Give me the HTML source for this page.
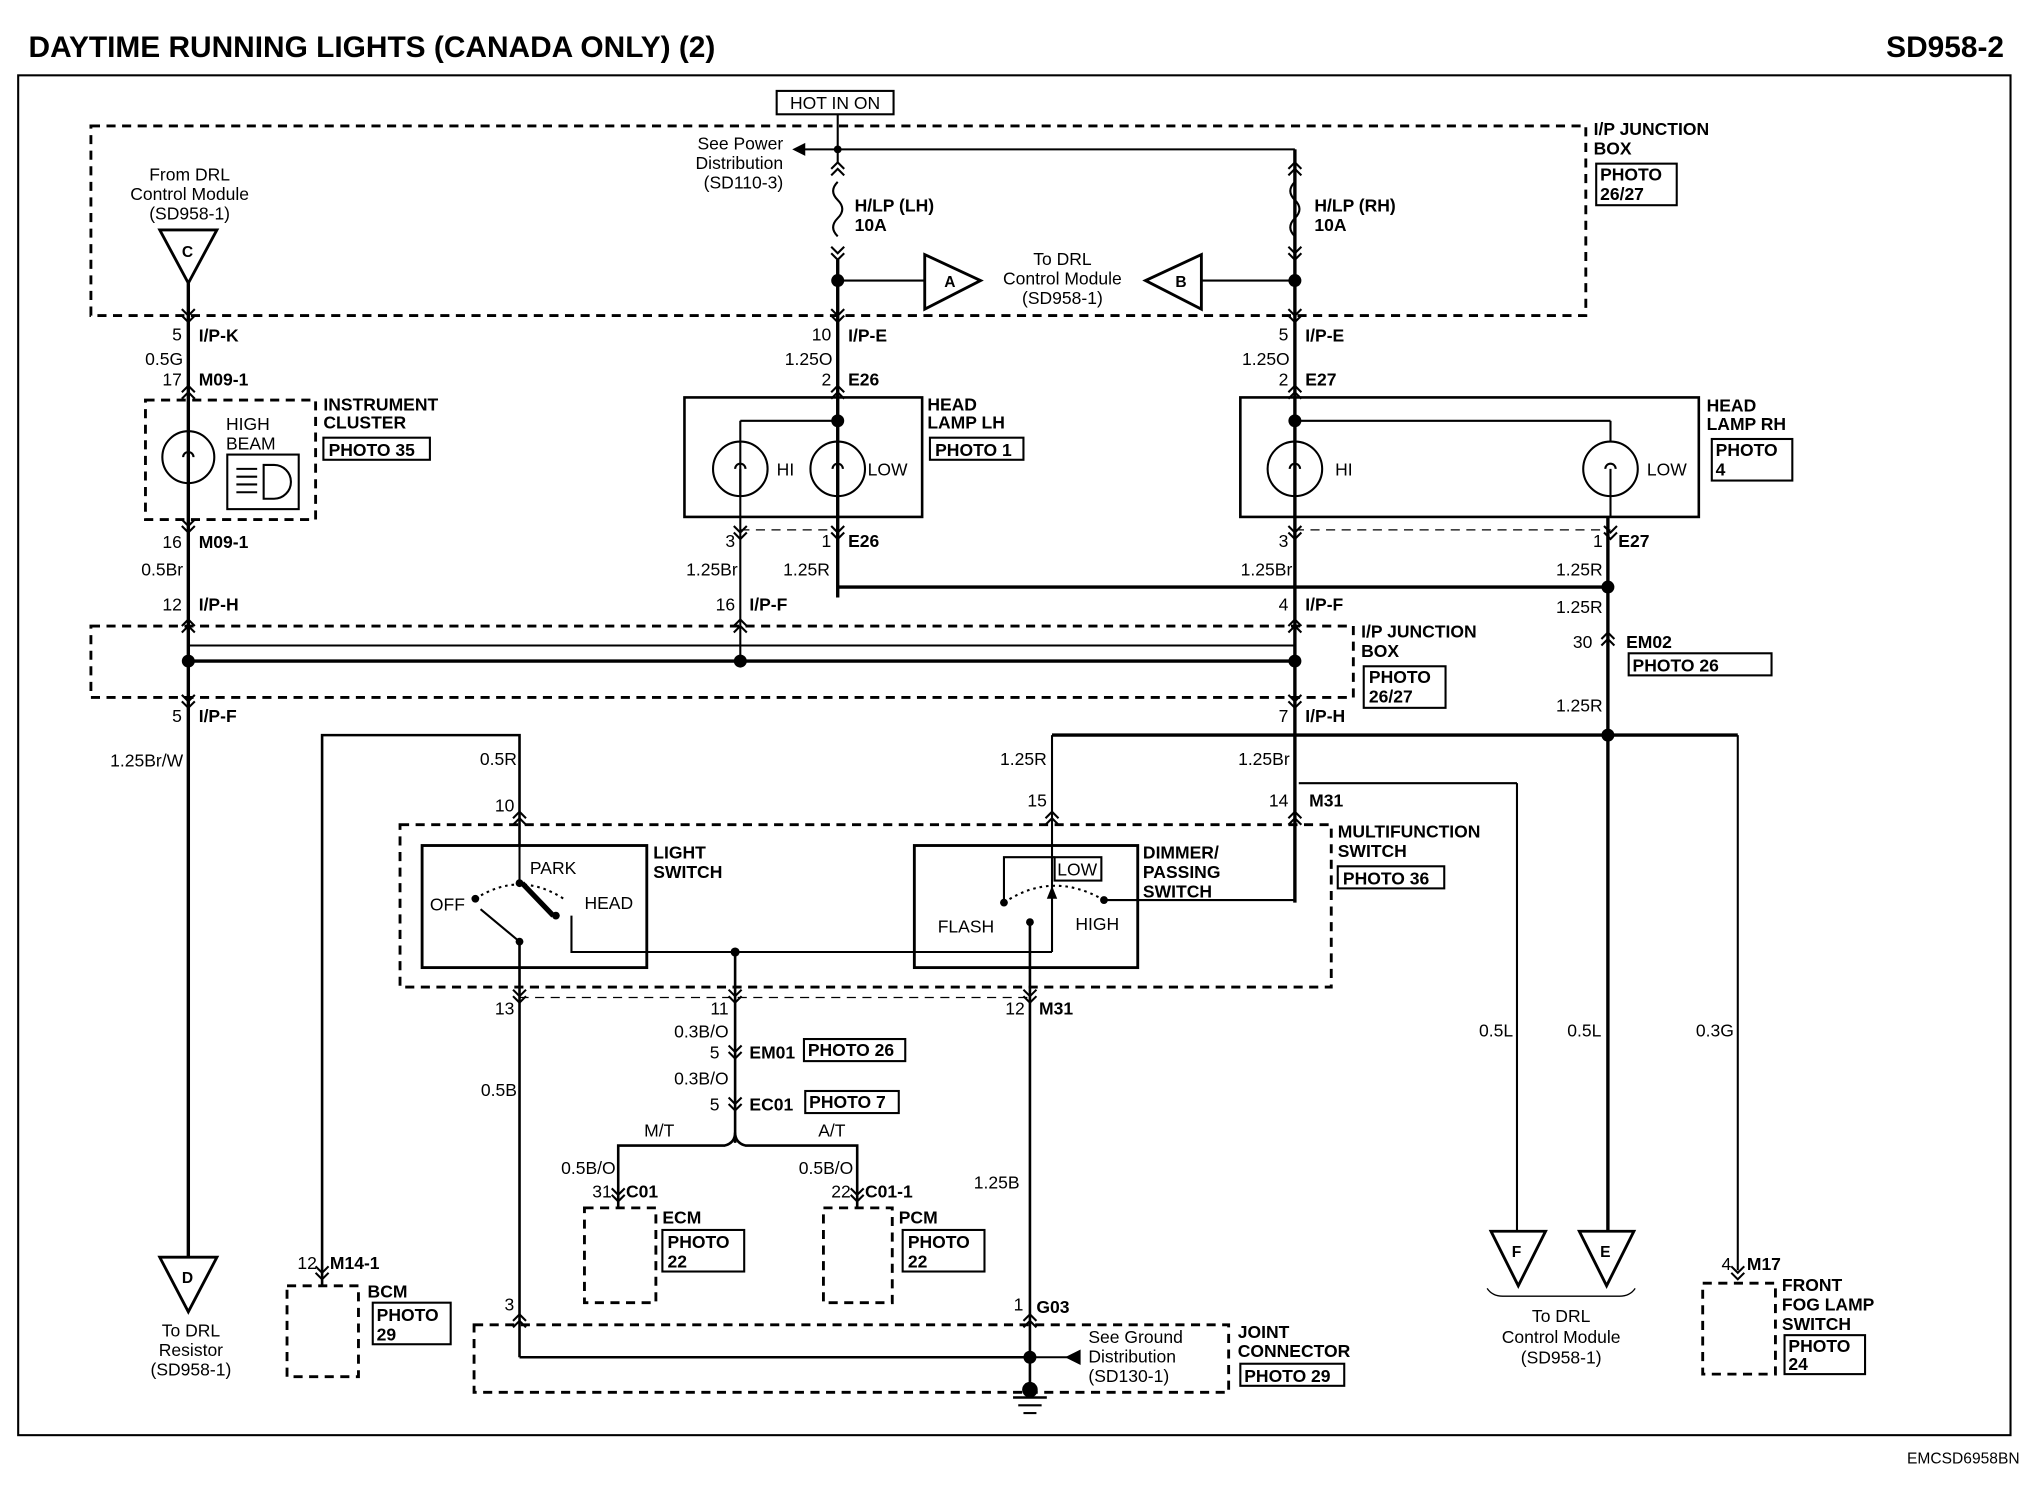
<!DOCTYPE html>
<html><head><meta charset="utf-8"><style>
html,body{margin:0;padding:0;background:#fff}
svg{display:block}
text{font-family:"Liberation Sans",Arial,sans-serif;font-size:13.5px;fill:#000}
.b{font-weight:bold}
.ln{stroke:#000;stroke-width:1.6;fill:none}
.tk{stroke:#000;stroke-width:2.6;fill:none}
.ds{stroke:#000;stroke-width:2.2;fill:none;stroke-dasharray:7,5}
.bx{stroke:#000;stroke-width:1.6;fill:none}
</style></head><body>
<svg width="2030" height="1504" viewBox="0 0 1563 1158" preserveAspectRatio="none">
<defs>
<g id="ch"><polyline class="ln" points="-5,5 0,0 5,5"/><polyline class="ln" points="-5,10 0,5 5,10"/></g>
<g id="cv"><polyline class="ln" points="-5,-5 0,0 5,-5"/><polyline class="ln" points="-5,-10 0,-5 5,-10"/></g>
</defs>
<text x="22" y="44" class="b" style="font-size:23px">DAYTIME RUNNING LIGHTS (CANADA ONLY)  (2)</text>
<text x="1543" y="44" class="b" style="font-size:23px" text-anchor="end">SD958-2</text>
<rect x="14" y="58" width="1534" height="1047" class="ln"/>
<text x="1555" y="1127" text-anchor="end" style="font-size:12px">EMCSD6958BN</text>

<!-- top junction box -->
<rect x="70" y="97" width="1151" height="146" class="ds"/>
<rect x="598" y="70" width="90" height="18" class="bx"/><text x="643" y="84" text-anchor="middle">HOT IN ON</text>
<line x1="645" y1="88" x2="645" y2="125" class="ln"/>
<line x1="645" y1="115" x2="997" y2="115" class="ln"/>
<line x1="645" y1="115" x2="618" y2="115" class="ln"/><polygon points="610,115 620,110 620,120"/>
<text x="603" y="115" text-anchor="end">See Power</text><text x="603" y="130" text-anchor="end">Distribution</text><text x="603" y="145" text-anchor="end">(SD110-3)</text>
<circle cx="645" cy="115" r="3"/>
<use href="#ch" x="645" y="125"/><use href="#ch" x="997" y="125"/>
<path d="M645,140 q-7,7 0,14 q7,7 0,14 q-7,7 0,14" class="ln"/><path d="M997,140 q-7,7 0,14 q7,7 0,14 q-7,7 0,14" class="ln"/>
<use href="#cv" x="645" y="200"/><use href="#cv" x="997" y="200"/>
<line x1="997" y1="115" x2="997" y2="125" class="ln"/>
<line x1="645" y1="200" x2="645" y2="460" class="tk"/>
<circle cx="645" cy="216" r="5"/><line x1="645" y1="216" x2="712" y2="216" class="ln"/>
<polygon points="712,196 712,238 755,216" class="bx" style="stroke-width:2.2"/><text x="727" y="221" class="b" style="font-size:12px">A</text>
<polygon points="925,196 925,238 882,216" class="bx" style="stroke-width:2.2"/><text x="905" y="221" class="b" style="font-size:12px">B</text>
<line x1="925" y1="216" x2="997" y2="216" class="ln"/><circle cx="997" cy="216" r="5"/>
<text x="818" y="204" text-anchor="middle">To DRL</text><text x="818" y="219" text-anchor="middle">Control Module</text><text x="818" y="234" text-anchor="middle">(SD958-1)</text>
<text x="658" y="163" class="b">H/LP (LH)</text><text x="658" y="178" class="b">10A</text>
<text x="1012" y="163" class="b">H/LP (RH)</text><text x="1012" y="178" class="b">10A</text>
<text x="1227" y="104" class="b">I/P JUNCTION</text><text x="1227" y="119" class="b">BOX</text>
<rect x="1229" y="126" width="62" height="32" class="bx"/><text x="1232" y="139" class="b">PHOTO</text><text x="1232" y="154" class="b">26/27</text>
<text x="146" y="139" text-anchor="middle">From DRL</text><text x="146" y="154" text-anchor="middle">Control Module</text><text x="146" y="169" text-anchor="middle">(SD958-1)</text>
<polygon points="123,177 167,177 145,218" class="bx" style="stroke-width:2.2"/><text x="140" y="198" class="b" style="font-size:12px">C</text>

<!-- left column -->
<line x1="145" y1="218" x2="145" y2="968" class="tk"/>
<use href="#cv" x="145" y="248"/><use href="#ch" x="145" y="297"/>
<text x="140" y="262" text-anchor="end">5</text><text x="153" y="263" class="b">I/P-K</text>
<text x="141" y="281" text-anchor="end">0.5G</text>
<text x="140" y="297" text-anchor="end">17</text><text x="153" y="297" class="b">M09-1</text>
<rect x="112" y="308" width="131" height="92" class="ds"/>
<circle cx="145" cy="352" r="20" fill="#fff" class="ln"/><path d="M141,352 a4,4 0 1 1 8,0" class="ln"/>
<rect x="175" y="350" width="55" height="42" class="bx"/>
<path d="M203,358 h8 a13,13 0 0 1 0,26 h-8 z" class="ln"/><line x1="182" y1="361" x2="198" y2="361" class="ln"/><line x1="182" y1="367" x2="198" y2="367" class="ln"/><line x1="182" y1="373" x2="198" y2="373" class="ln"/><line x1="182" y1="379" x2="198" y2="379" class="ln"/>
<text x="174" y="331">HIGH</text><text x="174" y="346">BEAM</text>
<text x="249" y="316" class="b">INSTRUMENT</text><text x="249" y="330" class="b">CLUSTER</text>
<rect x="249" y="337" width="82" height="17" class="bx"/><text x="253" y="351" class="b">PHOTO 35</text>
<use href="#cv" x="145" y="410"/>
<text x="140" y="422" text-anchor="end">16</text><text x="153" y="422" class="b">M09-1</text>
<text x="141" y="443" text-anchor="end">0.5Br</text>
<text x="140" y="470" text-anchor="end">12</text><text x="153" y="470" class="b">I/P-H</text>
<use href="#ch" x="145" y="477"/>

<!-- mid junction box -->
<rect x="70" y="482" width="972" height="55" class="ds"/>
<line x1="145" y1="497" x2="997" y2="497" class="ln"/>
<line x1="145" y1="509" x2="997" y2="509" class="tk"/>
<circle cx="145" cy="509" r="5"/><circle cx="570" cy="509" r="5"/><circle cx="997" cy="509" r="5"/>
<text x="1048" y="491" class="b">I/P JUNCTION</text><text x="1048" y="506" class="b">BOX</text>
<rect x="1050" y="513" width="63" height="32" class="bx"/><text x="1054" y="526" class="b">PHOTO</text><text x="1054" y="541" class="b">26/27</text>
<use href="#cv" x="145" y="545"/>
<text x="140" y="556" text-anchor="end">5</text><text x="153" y="556" class="b">I/P-F</text>
<text x="141" y="590" text-anchor="end">1.25Br/W</text>
<polygon points="123,968 167,968 145,1010" class="bx" style="stroke-width:2.2"/><text x="140" y="988" class="b" style="font-size:12px">D</text>
<text x="147" y="1029" text-anchor="middle">To DRL</text><text x="147" y="1044" text-anchor="middle">Resistor</text><text x="147" y="1059" text-anchor="middle">(SD958-1)</text>

<!-- head lamp LH -->
<use href="#cv" x="645" y="248"/><use href="#ch" x="645" y="297"/>
<text x="640" y="262" text-anchor="end">10</text><text x="653" y="263" class="b">I/P-E</text>
<text x="641" y="281" text-anchor="end">1.25O</text>
<text x="640" y="297" text-anchor="end">2</text><text x="653" y="297" class="b">E26</text>
<rect x="527" y="306" width="183" height="92" class="bx" style="stroke-width:2"/>
<circle cx="645" cy="324" r="5"/>
<line x1="570" y1="324" x2="645" y2="324" class="ln"/><line x1="570" y1="324" x2="570" y2="509" class="ln"/>
<circle cx="570" cy="361" r="21" fill="#fff" class="ln"/><circle cx="645" cy="361" r="21" fill="#fff" class="ln"/>
<path d="M566,361 a4,4 0 1 1 8,0" class="ln"/><path d="M641,361 a4,4 0 1 1 8,0" class="ln"/>
<line x1="570" y1="361" x2="570" y2="382" class="ln"/><line x1="645" y1="361" x2="645" y2="382" class="ln"/>
<text x="598" y="366">HI</text><text x="668" y="366">LOW</text>
<text x="714" y="316" class="b">HEAD</text><text x="714" y="330" class="b">LAMP LH</text>
<rect x="716" y="337" width="72" height="17" class="bx"/><text x="720" y="351" class="b">PHOTO 1</text>
<use href="#cv" x="570" y="415"/><use href="#cv" x="645" y="415"/>
<line x1="570" y1="408" x2="645" y2="408" class="ds" style="stroke-width:1"/>
<text x="566" y="421" text-anchor="end">3</text><text x="640" y="421" text-anchor="end">1</text><text x="653" y="421" class="b">E26</text>
<text x="568" y="443" text-anchor="end">1.25Br</text><text x="639" y="443" text-anchor="end">1.25R</text>
<line x1="645" y1="452" x2="1238" y2="452" class="tk"/>
<use href="#ch" x="570" y="477"/>
<text x="566" y="470" text-anchor="end">16</text><text x="577" y="470" class="b">I/P-F</text>

<!-- head lamp RH -->
<line x1="997" y1="115" x2="997" y2="695" class="tk"/>
<use href="#cv" x="997" y="248"/><use href="#ch" x="997" y="297"/>
<text x="992" y="262" text-anchor="end">5</text><text x="1005" y="263" class="b">I/P-E</text>
<text x="993" y="281" text-anchor="end">1.25O</text>
<text x="992" y="297" text-anchor="end">2</text><text x="1005" y="297" class="b">E27</text>
<rect x="955" y="306" width="353" height="92" class="bx" style="stroke-width:2"/>
<circle cx="997" cy="324" r="5"/>
<line x1="997" y1="324" x2="1240" y2="324" class="ln"/><line x1="1240" y1="324" x2="1240" y2="340" class="ln"/>
<circle cx="997" cy="361" r="21" fill="#fff" class="ln"/><circle cx="1240" cy="361" r="21" fill="#fff" class="ln"/>
<path d="M993,361 a4,4 0 1 1 8,0" class="ln"/><path d="M1236,361 a4,4 0 1 1 8,0" class="ln"/>
<line x1="997" y1="361" x2="997" y2="382" class="ln"/><line x1="1240" y1="361" x2="1240" y2="398" class="ln"/>
<text x="1028" y="366">HI</text><text x="1268" y="366">LOW</text>
<text x="1314" y="317" class="b">HEAD</text><text x="1314" y="331" class="b">LAMP RH</text>
<rect x="1318" y="338" width="62" height="32" class="bx"/><text x="1321" y="351" class="b">PHOTO</text><text x="1321" y="366" class="b">4</text>
<use href="#cv" x="997" y="415"/><use href="#cv" x="1240" y="415"/>
<line x1="997" y1="408" x2="1240" y2="408" class="ds" style="stroke-width:1"/>
<text x="992" y="421" text-anchor="end">3</text><text x="1234" y="421" text-anchor="end">1</text><text x="1246" y="421" class="b">E27</text>
<text x="995" y="443" text-anchor="end">1.25Br</text><text x="1234" y="443" text-anchor="end">1.25R</text>
<line x1="1238" y1="398" x2="1238" y2="948" class="tk"/>
<circle cx="1238" cy="452" r="5"/>
<text x="1234" y="472" text-anchor="end">1.25R</text>
<use href="#ch" x="1238" y="487"/>
<text x="1226" y="499" text-anchor="end">30</text><text x="1252" y="499" class="b">EM02</text>
<rect x="1254" y="503" width="110" height="17" class="bx"/><text x="1257" y="517" class="b">PHOTO 26</text>
<text x="1234" y="548" text-anchor="end">1.25R</text>
<use href="#ch" x="997" y="477"/>
<text x="992" y="470" text-anchor="end">4</text><text x="1005" y="470" class="b">I/P-F</text>
<use href="#cv" x="997" y="545"/>
<text x="992" y="556" text-anchor="end">7</text><text x="1005" y="556" class="b">I/P-H</text>
<text x="993" y="589" text-anchor="end">1.25Br</text>
<line x1="810" y1="566" x2="1338" y2="566" class="tk"/>
<circle cx="1238" cy="566" r="5"/>
<line x1="810" y1="566" x2="810" y2="690" class="ln"/>
<line x1="1338" y1="566" x2="1338" y2="978" class="ln"/>
<text x="806" y="589" text-anchor="end">1.25R</text>
<line x1="1000" y1="603" x2="1168" y2="603" class="ln"/><line x1="1168" y1="603" x2="1168" y2="948" class="ln"/>
<use href="#ch" x="997" y="625"/><use href="#ch" x="810" y="625"/><use href="#ch" x="400" y="625"/>
<text x="992" y="621" text-anchor="end">14</text><text x="1008" y="621" class="b">M31</text>
<text x="806" y="621" text-anchor="end">15</text><text x="396" y="625" text-anchor="end">10</text>
<!-- 0.5R from BCM -->
<polyline points="248,990 248,566 400,566 400,651" class="ln" style="stroke-width:2"/>
<text x="398" y="589" text-anchor="end">0.5R</text>

<!-- multifunction switch -->
<rect x="308" y="635" width="717" height="125" class="ds"/>
<rect x="325" y="651" width="173" height="94" class="bx" style="stroke-width:2.2"/>
<rect x="704" y="651" width="172" height="94" class="bx" style="stroke-width:2.2"/>
<text x="503" y="661" class="b">LIGHT</text><text x="503" y="676" class="b">SWITCH</text>
<text x="880" y="661" class="b">DIMMER/</text><text x="880" y="676" class="b">PASSING</text><text x="880" y="691" class="b">SWITCH</text>
<text x="1030" y="645" class="b">MULTIFUNCTION</text><text x="1030" y="660" class="b">SWITCH</text>
<rect x="1030" y="667" width="82" height="17" class="bx"/><text x="1034" y="681" class="b">PHOTO 36</text>
<text x="331" y="701">OFF</text><text x="408" y="673">PARK</text><text x="450" y="700">HEAD</text>
<circle cx="366" cy="692" r="3"/><circle cx="400" cy="680" r="3"/><circle cx="428" cy="705" r="3"/><circle cx="400" cy="725" r="3"/>
<path d="M366,692 Q400,670 434,692" class="ln" style="stroke-dasharray:2,3"/>
<line x1="402" y1="680" x2="426" y2="705" stroke="#000" stroke-width="4"/>
<line x1="370" y1="700" x2="400" y2="725" class="ln"/>
<line x1="400" y1="651" x2="400" y2="680" class="ln"/>
<polyline points="440,705 440,733 810,733" class="ln"/>
<circle cx="566" cy="733" r="3.5"/>
<line x1="400" y1="725" x2="400" y2="1045" class="ln" style="stroke-width:2"/>
<!-- dimmer internals -->
<rect x="812" y="660" width="36" height="18" class="bx"/><text x="814" y="674">LOW</text>
<circle cx="773" cy="695" r="3"/><circle cx="850" cy="693" r="3"/><circle cx="793" cy="710" r="3"/>
<path d="M773,695 Q810,670 850,693" class="ln" style="stroke-dasharray:2,3"/>
<polyline points="773,695 773,660 812,660" class="ln"/>
<line x1="810" y1="733" x2="810" y2="688" class="ln"/><polygon points="810,682 806,692 814,692"/>
<polyline points="850,693 997,693 997,630" class="ln"/>
<text x="722" y="718">FLASH</text><text x="828" y="716">HIGH</text>
<line x1="793" y1="710" x2="793" y2="1070" class="ln" style="stroke-width:2"/>
<use href="#cv" x="400" y="772"/><use href="#cv" x="566" y="772"/><use href="#cv" x="793" y="772"/>
<line x1="400" y1="768" x2="793" y2="768" class="ds" style="stroke-width:1"/>
<text x="396" y="781" text-anchor="end">13</text><text x="561" y="781" text-anchor="end">11</text>
<text x="789" y="781" text-anchor="end">12</text><text x="800" y="781" class="b">M31</text>
<text x="398" y="844" text-anchor="end">0.5B</text>
<text x="785" y="915" text-anchor="end">1.25B</text>
<!-- ECM/PCM branch -->
<line x1="566" y1="733" x2="566" y2="880" class="ln" style="stroke-width:2"/>
<text x="561" y="799" text-anchor="end">0.3B/O</text>
<use href="#cv" x="566" y="815"/><text x="554" y="815" text-anchor="end">5</text><text x="577" y="815" class="b">EM01</text>
<rect x="619" y="800" width="78" height="17" class="bx"/><text x="622" y="813" class="b">PHOTO 26</text>
<text x="561" y="835" text-anchor="end">0.3B/O</text>
<use href="#cv" x="566" y="855"/><text x="554" y="855" text-anchor="end">5</text><text x="577" y="855" class="b">EC01</text>
<rect x="620" y="840" width="72" height="17" class="bx"/><text x="623" y="853" class="b">PHOTO 7</text>
<path d="M476,930 V882 H558 Q566,880 566,872 Q566,880 574,882 H660 V930" class="ln" style="stroke-width:2"/>
<text x="496" y="875">M/T</text><text x="630" y="875">A/T</text>
<text x="474" y="904" text-anchor="end">0.5B/O</text><text x="657" y="904" text-anchor="end">0.5B/O</text>
<use href="#cv" x="476" y="925"/><use href="#cv" x="660" y="925"/>
<text x="471" y="922" text-anchor="end">31</text><text x="482" y="922" class="b">C01</text>
<text x="655" y="922" text-anchor="end">22</text><text x="666" y="922" class="b">C01-1</text>
<rect x="450" y="930" width="55" height="73" class="ds"/>
<rect x="634" y="930" width="53" height="73" class="ds"/>
<text x="510" y="942" class="b">ECM</text><rect x="510" y="947" width="63" height="32" class="bx"/><text x="514" y="961" class="b">PHOTO</text><text x="514" y="976" class="b">22</text>
<text x="692" y="942" class="b">PCM</text><rect x="695" y="947" width="63" height="32" class="bx"/><text x="699" y="961" class="b">PHOTO</text><text x="699" y="976" class="b">22</text>

<!-- joint connector -->
<rect x="365" y="1020" width="581" height="52" class="ds"/>
<use href="#ch" x="400" y="1012"/><use href="#ch" x="793" y="1012"/>
<text x="396" y="1009" text-anchor="end">3</text><text x="788" y="1009" text-anchor="end">1</text><text x="798" y="1011" class="b">G03</text>
<line x1="400" y1="1045" x2="793" y2="1045" class="ln" style="stroke-width:2"/>
<circle cx="793" cy="1045" r="5"/>
<line x1="793" y1="1045" x2="825" y2="1045" class="ln"/><polygon points="820,1045 832,1039 832,1051"/>
<circle cx="793" cy="1070" r="6"/>
<line x1="780" y1="1076" x2="806" y2="1076" class="ln" style="stroke-width:2"/><line x1="784" y1="1082" x2="802" y2="1082" class="ln"/><line x1="788" y1="1088" x2="798" y2="1088" class="ln"/>
<text x="838" y="1034">See Ground</text><text x="838" y="1049">Distribution</text><text x="838" y="1064">(SD130-1)</text>
<text x="953" y="1030" class="b">JOINT</text><text x="953" y="1045" class="b">CONNECTOR</text>
<rect x="955" y="1050" width="80" height="17" class="bx"/><text x="958" y="1064" class="b">PHOTO 29</text>
<!-- BCM -->
<use href="#cv" x="248" y="985"/>
<text x="244" y="977" text-anchor="end">12</text><text x="254" y="977" class="b">M14-1</text>
<rect x="221" y="990" width="55" height="70" class="ds"/>
<text x="283" y="999" class="b">BCM</text><rect x="287" y="1003" width="60" height="32" class="bx"/><text x="290" y="1017" class="b">PHOTO</text><text x="290" y="1032" class="b">29</text>
<!-- F E -->
<text x="1165" y="798" text-anchor="end">0.5L</text><text x="1233" y="798" text-anchor="end">0.5L</text><text x="1335" y="798" text-anchor="end">0.3G</text>
<polygon points="1148,948 1190,948 1169,990" class="bx" style="stroke-width:2.2"/><text x="1164" y="968" class="b" style="font-size:12px">F</text>
<polygon points="1216,948 1258,948 1237,990" class="bx" style="stroke-width:2.2"/><text x="1232" y="968" class="b" style="font-size:12px">E</text>
<path d="M1145,992 q4,6 12,6 h90 q8,0 12,-6" class="ln" style="stroke-width:1"/>
<text x="1202" y="1018" text-anchor="middle">To DRL</text><text x="1202" y="1034" text-anchor="middle">Control Module</text><text x="1202" y="1050" text-anchor="middle">(SD958-1)</text>
<!-- fog -->
<use href="#cv" x="1338" y="985"/>
<text x="1333" y="978" text-anchor="end">4</text><text x="1345" y="978" class="b">M17</text>
<rect x="1311" y="988" width="56" height="70" class="ds"/>
<text x="1372" y="994" class="b">FRONT</text><text x="1372" y="1009" class="b">FOG LAMP</text><text x="1372" y="1024" class="b">SWITCH</text>
<rect x="1374" y="1028" width="62" height="30" class="bx"/><text x="1377" y="1041" class="b">PHOTO</text><text x="1377" y="1055" class="b">24</text>
</svg>
</body></html>
